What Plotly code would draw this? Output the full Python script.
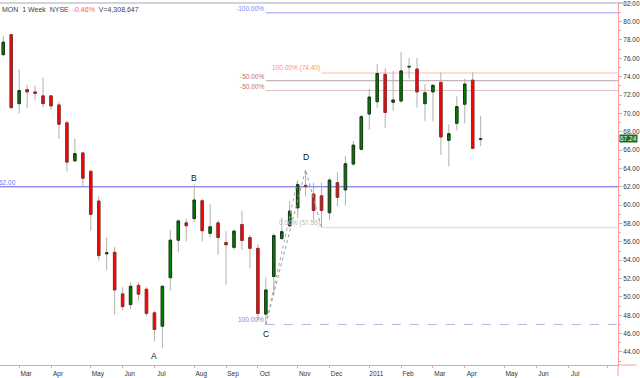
import plotly.graph_objects as go
import pandas as pd

# ---------------- data (weekly candles, MON, week ending Friday) ----------------
dates = [
    "2010-02-19", "2010-02-26", "2010-03-05", "2010-03-12", "2010-03-19", "2010-03-26",
    "2010-04-02", "2010-04-09", "2010-04-16", "2010-04-23", "2010-04-30", "2010-05-07",
    "2010-05-14", "2010-05-21", "2010-05-28", "2010-06-04", "2010-06-11", "2010-06-18",
    "2010-06-25", "2010-07-02", "2010-07-09", "2010-07-16", "2010-07-23", "2010-07-30",
    "2010-08-06", "2010-08-13", "2010-08-20", "2010-08-27", "2010-09-03", "2010-09-10",
    "2010-09-17", "2010-09-24", "2010-10-01", "2010-10-08", "2010-10-15", "2010-10-22",
    "2010-10-29", "2010-11-05", "2010-11-12", "2010-11-19", "2010-11-26", "2010-12-03",
    "2010-12-10", "2010-12-17", "2010-12-24", "2010-12-31", "2011-01-07", "2011-01-14",
    "2011-01-21", "2011-01-28", "2011-02-04", "2011-02-11", "2011-02-18", "2011-02-25",
    "2011-03-04", "2011-03-11", "2011-03-18", "2011-03-25", "2011-04-01", "2011-04-08",
    "2011-04-15",
]
opens = [
    76.40, 78.58, 71.06, 72.60, 72.34, 71.91,
    71.91, 70.92, 68.97, 64.83, 65.69, 63.69,
    60.45, 54.70, 54.86, 50.33, 49.16, 51.26,
    50.84, 48.27, 46.81, 52.09, 56.18, 58.07,
    58.53, 60.48, 56.93, 58.07, 55.93, 55.40,
    57.89, 56.47, 55.29, 48.13, 52.22, 56.36,
    57.75, 59.70, 62.16, 61.20, 61.02, 59.17,
    62.45, 61.66, 64.48, 66.08, 69.93, 71.27,
    74.26, 71.21, 71.35, 75.05, 74.84, 71.06,
    72.34, 73.38, 67.07, 68.92, 71.00, 73.62,
    67.18,
]
highs = [
    78.47, 78.65, 74.80, 73.13, 73.03, 73.91,
    72.00, 71.27, 69.21, 67.21, 65.82, 63.75,
    60.95, 56.50, 55.43, 51.05, 51.58, 51.58,
    51.05, 48.48, 51.26, 57.28, 58.45, 58.53,
    62.27, 60.66, 60.13, 58.35, 57.17, 57.35,
    59.38, 56.74, 55.75, 52.12, 56.93, 58.63,
    60.48, 62.69, 63.87, 62.45, 62.45, 62.98,
    63.58, 65.37, 67.00, 69.85, 72.66, 75.38,
    74.90, 74.63, 76.69, 76.05, 76.05, 73.20,
    73.20, 74.45, 68.78, 71.85, 73.77, 74.48,
    69.75,
]
lows = [
    76.26, 70.42, 70.00, 70.57, 71.42, 70.63,
    70.42, 67.21, 63.69, 64.69, 62.09, 57.17,
    54.00, 52.94, 48.06, 48.56, 48.67, 49.59,
    47.95, 45.17, 44.46, 50.70, 54.86, 56.04,
    58.17, 56.04, 56.47, 54.61, 51.34, 55.14,
    55.14, 53.11, 47.42, 47.00, 50.16, 56.21,
    57.53, 58.60, 60.95, 58.35, 57.56, 58.35,
    59.88, 59.95, 64.30, 66.00, 68.22, 70.57,
    68.43, 70.28, 71.17, 73.77, 70.63, 69.14,
    69.14, 65.47, 64.22, 68.14, 68.92, 66.10,
    66.43,
]
closes = [
    77.76, 70.63, 72.49, 72.34, 72.17, 71.06,
    70.81, 68.82, 64.69, 65.61, 62.94, 58.99,
    54.50, 54.80, 50.76, 48.94, 51.16, 50.30,
    48.20, 46.45, 51.16, 56.18, 58.28, 57.75,
    60.56, 57.21, 57.64, 56.47, 55.68, 57.17,
    56.15, 55.29, 48.20, 50.76, 56.68, 57.11,
    59.35, 62.24, 62.02, 59.41, 59.41, 62.73,
    60.85, 64.51, 66.54, 69.64, 71.78, 74.34,
    70.10, 71.46, 74.63, 75.12, 72.34, 72.24,
    73.06, 67.43, 67.79, 70.74, 73.20, 66.19,
    67.24,
]

month_labels = ["Mar", "Apr", "May", "Jun", "Jul", "Aug", "Sep", "Oct", "Nov", "Dec",
                "2011", "Feb", "Mar", "Apr", "May", "Jun", "Jul", ""]

# Fibonacci / study levels: (label, value, start date)
fib_labels = ["-100.00%", "100.00% (74.40)", "-50.00%", "-50.00%", "0.00% (57.56)", "100.00%"]
fib_values = [80.96, 74.40, 73.56, 72.49, 57.56, 47.00]
fib_starts = ["2010-10-08", "2010-11-26", "2010-10-08", "2010-10-08", "2010-11-26", "2010-10-08"]
fib_line_colors = ["#9a9aff", "#ffb8a8", "#b8a0a0", "#dcc0c0", "#e2e2e2", "#b8b0e0"]
fib_text_colors = ["#8080ff", "#ff9070", "#c07060", "#c07060", "#b8b8b8", "#8888cc"]

level_62 = 62.00

# swing points (A, B, C, D) and their label prices
swing_names = ["A", "B", "C", "D"]
swing_dates = ["2010-07-02", "2010-08-06", "2010-10-08", "2010-11-12"]
swing_label_y = [43.57, 63.00, 45.92, 65.26]

# dotted projection path C -> D -> E and C -> Nov-5 high
proj_dates = ["2010-10-08", "2010-11-12", "2010-11-26"]
proj_values = [47.00, 63.87, 57.56]
proj2_dates = ["2010-10-08", "2010-11-05"]
proj2_values = [47.00, 62.69]

last_price_text = "67.24"
last_price = 67.24

# ---------------- helpers ----------------
T0 = pd.Timestamp("2010-03-05")


def wk(d):
    return (pd.Timestamp(d) - T0).days / 7.0


xs = [wk(d) for d in dates]
body_hi = [max(o, c) for o, c in zip(opens, closes)]
body_lo = [min(o, c) for o, c in zip(opens, closes)]

fridays = pd.date_range("2010-02-19", "2011-08-31", freq="W-FRI")
tick_vals = []
seen = set()
for f in fridays:
    key = (f.year, f.month)
    if key not in seen:
        seen.add(key)
        if f >= pd.Timestamp("2010-03-01"):
            tick_vals.append(wk(f))

X_MIN, X_MAX = -2.41, 75.26
Y_MIN, Y_MAX = 42.58, 82.03

FONT = "Liberation Sans, Arial, sans-serif"
AXIS_RED = "#ff9a9a"

fig = go.Figure()

# wicks
fig.add_trace(go.Candlestick(
    x=xs, open=opens, high=highs, low=lows, close=closes,
    increasing=dict(line=dict(color="#b0b0b0", width=1), fillcolor="rgba(0,0,0,0)"),
    decreasing=dict(line=dict(color="#b0b0b0", width=1), fillcolor="rgba(0,0,0,0)"),
    whiskerwidth=0, hoverinfo="skip", showlegend=False,
))
# bodies
fig.add_trace(go.Candlestick(
    x=xs, open=opens, high=body_hi, low=body_lo, close=closes,
    increasing=dict(line=dict(color="#163816", width=1), fillcolor="#008000"),
    decreasing=dict(line=dict(color="#8a2f2f", width=1), fillcolor="#ff0000"),
    whiskerwidth=0, hoverinfo="skip", showlegend=False,
))

# dotted projection lines
fig.add_trace(go.Scatter(
    x=[wk(d) for d in proj_dates], y=proj_values, mode="lines",
    line=dict(color="#9a9a9a", width=1, dash="dot"), hoverinfo="skip", showlegend=False,
))
fig.add_trace(go.Scatter(
    x=[wk(d) for d in proj2_dates], y=proj2_values, mode="lines",
    line=dict(color="#a8a8a8", width=1, dash="dot"), hoverinfo="skip", showlegend=False,
))

shapes = []
annotations = []

# 62.00 horizontal line
shapes.append(dict(type="line", xref="paper", yref="y", x0=0, x1=1, y0=level_62, y1=level_62,
                   line=dict(color="#5a5ae6", width=1), layer="below"))
annotations.append(dict(xref="paper", yref="y", x=0, y=level_62, text="62.00", showarrow=False,
                        xanchor="left", yanchor="bottom", xshift=-3, yshift=-1,
                        font=dict(family=FONT, size=6.5, color="#7070ff")))

for lab, val, st, lc, tc in zip(fib_labels, fib_values, fib_starts, fib_line_colors, fib_text_colors):
    dash = "dash" if lab == "100.00%" else "solid"
    width = 1.5 if lab.startswith("0.00%") else 1
    shapes.append(dict(type="line", xref="x", yref="y", x0=wk(st), x1=X_MAX, y0=val, y1=val,
                       line=dict(color=lc, width=width, dash=dash), layer="below"))
    annotations.append(dict(xref="x", yref="y", x=wk(st), y=val, text=lab, showarrow=False,
                            xanchor="right", yanchor="bottom", yshift=-1,
                            font=dict(family=FONT, size=6.5, color=tc)))

for nm, d, yv in zip(swing_names, swing_dates, swing_label_y):
    annotations.append(dict(xref="x", yref="y", x=wk(d), y=yv, text=nm, showarrow=False,
                            xanchor="center", yanchor="middle",
                            font=dict(family=FONT, size=8.5, color="#111111")))

# header
annotations.append(dict(
    xref="paper", yref="paper", x=0, y=1, xanchor="left", yanchor="top", xshift=0, yshift=-1,
    showarrow=False,
    text="MON&nbsp;&nbsp;1 Week&nbsp;&nbsp;NYSE&nbsp;&nbsp;<span style='color:#ff5a5a'>-0.46%</span>&nbsp;&nbsp;V=4,308,647",
    font=dict(family=FONT, size=7, color="#444444"),
))

# last price marker on the right axis
annotations.append(dict(
    xref="paper", yref="y", x=1, y=last_price, xanchor="left", yanchor="middle", xshift=1,
    showarrow=False, text=last_price_text, bgcolor="#1c6e1c", borderpad=0,
    font=dict(family=FONT, size=6.5, color="#ffffff"),
))

# frame bits: top grey line, axis line extensions
shapes.append(dict(type="line", xref="paper", yref="paper", x0=0, x1=1.03, y0=1, y1=1,
                   line=dict(color="#c4c4cc", width=1.5)))
shapes.append(dict(type="line", xref="paper", yref="paper", x0=1, x1=1, y0=0, y1=-0.03,
                   line=dict(color=AXIS_RED, width=1)))
shapes.append(dict(type="line", xref="paper", yref="paper", x0=1, x1=1.03, y0=0, y1=0,
                   line=dict(color=AXIS_RED, width=1)))

fig.update_layout(
    width=640, height=378,
    margin=dict(l=0, r=18, t=0, b=9),
    paper_bgcolor="#ffffff", plot_bgcolor="#ffffff",
    boxgap=0.55,
    showlegend=False,
    shapes=shapes, annotations=annotations,
    font=dict(family=FONT, size=6.5, color="#333333"),
    xaxis=dict(
        range=[X_MIN, X_MAX], showgrid=False, zeroline=False,
        showline=True, linecolor=AXIS_RED, linewidth=1,
        ticks="outside", ticklen=2, tickcolor=AXIS_RED,
        tickvals=tick_vals, ticktext=month_labels,
        tickfont=dict(family=FONT, size=6.5, color="#333333"),
        ticklabelshift=7, ticklabeloverflow="allow",
        rangeslider=dict(visible=False), fixedrange=True,
    ),
    yaxis=dict(
        side="right", range=[Y_MIN, Y_MAX], showgrid=False, zeroline=False,
        showline=True, linecolor=AXIS_RED, linewidth=1,
        ticks="outside", ticklen=3, tickcolor=AXIS_RED,
        tick0=0, dtick=2, tickformat=".2f", ticklabeloverflow="allow",
        minor=dict(dtick=1, ticks="outside", ticklen=2, tickcolor=AXIS_RED),
        tickfont=dict(family=FONT, size=6.5, color="#333333"),
        fixedrange=True,
    ),
)

fig.write_html(
    "out.html",
    config={"displayModeBar": False, "staticPlot": True},
    post_script="document.body.style.margin='0';document.body.style.padding='0';",
)
